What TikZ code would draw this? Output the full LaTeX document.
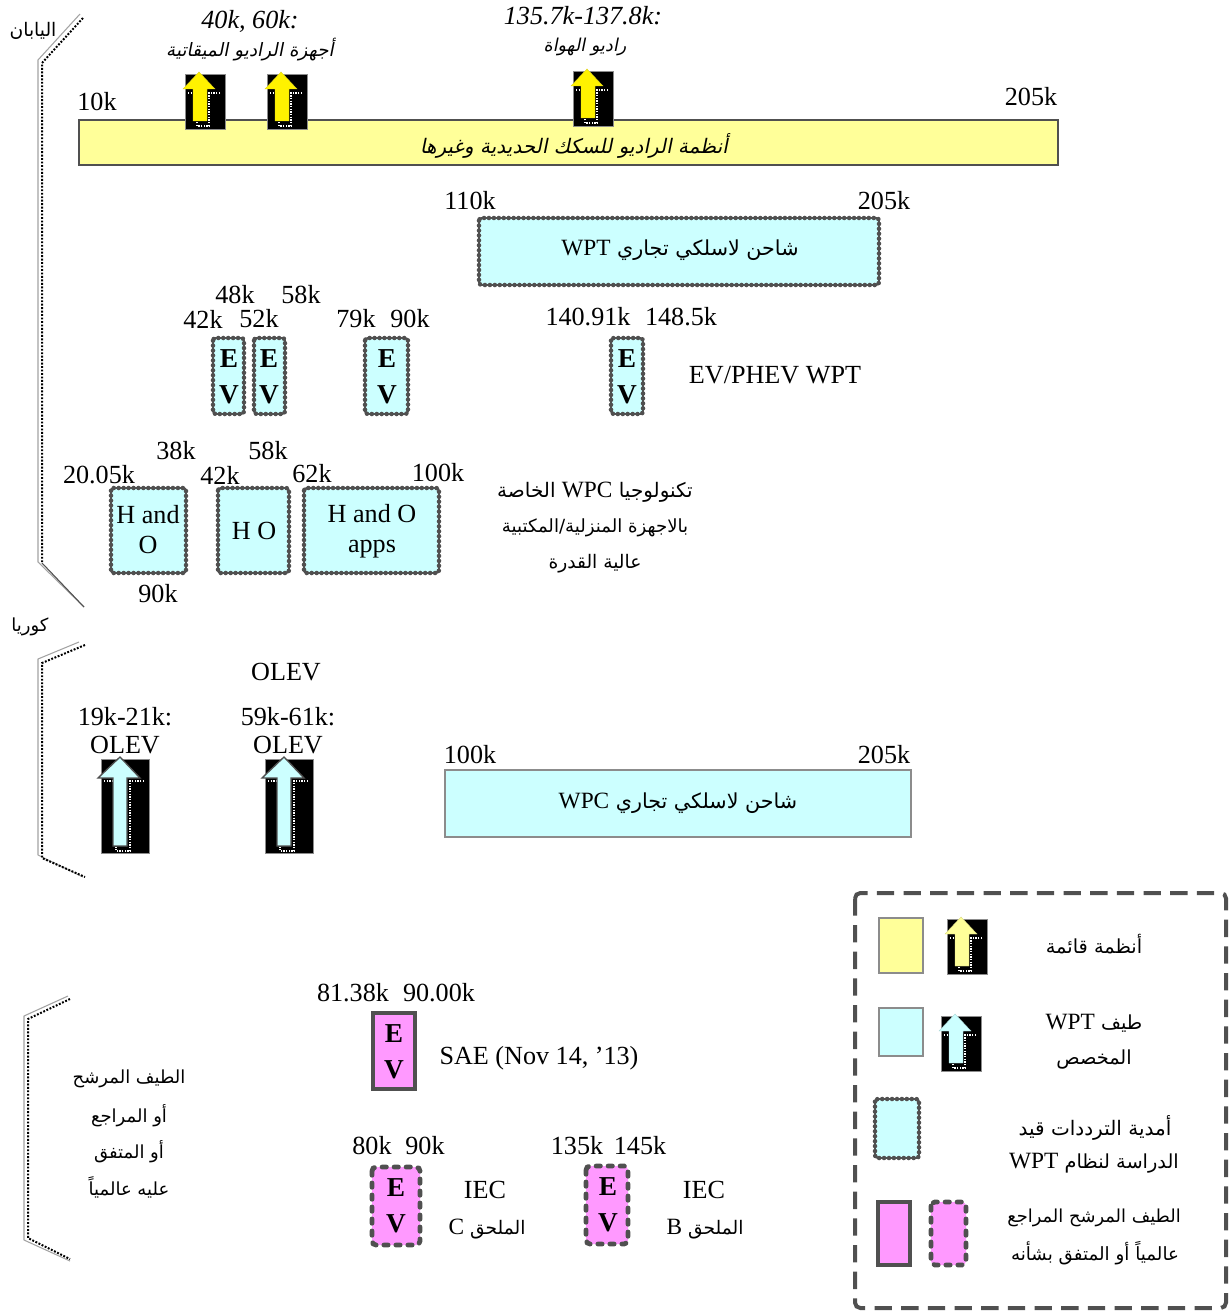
\documentclass[tikz,border=0pt]{standalone}
\usepackage{fontspec}
\setmainfont{Liberation Serif}
\newfontfamily\arabicfont[Script=Arabic]{DejaVu Sans}
\newfontfamily\arabicslant[Script=Arabic,FakeSlant=0.2]{DejaVu Sans}
\newfontfamily\latinfont{Liberation Serif}
\TeXXeTstate=1
\newcommand{\ar}[2][14]{{\arabicfont\fontsize{#1}{27}\selectfont\beginR #2\endR}}
\newcommand{\arit}[2][14]{{\arabicslant\fontsize{#1}{27}\selectfont\beginR #2\endR}}
\newcommand{\lat}[1]{\beginL{\latinfont\fontsize{17.5}{27}\selectfont #1}\endL}
\definecolor{dk}{HTML}{505050}
\definecolor{ylw}{HTML}{FFFF99}
\definecolor{cyn}{HTML}{CCFFFF}
\definecolor{pnk}{HTML}{FF99FF}
\definecolor{ln}{HTML}{8C8C8C}
\tikzset{
  every node/.style={inner sep=0pt,align=center,font=\fontsize{19.6}{27}\selectfont},
  beadbox/.style={draw=dk,line width=1.4pt,rounded corners=2pt,
    postaction={draw=dk,line width=3.4pt,line cap=round,dash pattern=on 0pt off 3.7pt}},
  solidbox/.style={draw=ln,line width=1pt},
  thickbox/.style={draw=dk,line width=3pt},
  blobbox/.style={draw=dk,line width=3.6pt,line cap=round,rounded corners=3pt,dash pattern=on 3.2pt off 5.8pt},
  rail/.style={draw=ln!80,line width=.8pt,line join=round},
  dotrail/.style={draw=black,line width=1.5pt,dash pattern=on 1.4pt off 1.2pt},
  whitedots/.style={draw=white,line width=1pt,dash pattern=on 1pt off 1pt},
  evlabel/.style={font=\fontsize{20.5}{27}\selectfont\bfseries},
  hlabel/.style={font=\fontsize{19.6}{22.5}\selectfont},
}
\newcommand{\smallflag}[3]{\begin{scope}[shift={(#1,#2)}]
  \fill[black,draw=ln,line width=.5pt] (0,0) rectangle (40,55);
  \draw[whitedots] (3,19) -- (8,19) (35,19) -- (24,19) -- (24,52) -- (12,52) -- (12,48);
  \draw[fill=#3,draw=#3!85!black,line width=.3pt] (14,-2) -- (30,15) -- (22,15) -- (22,47) -- (8,47) -- (8,15) -- (-2,15) -- cycle;
\end{scope}}
\newcommand{\bigflag}[3]{\begin{scope}[shift={(#1,#2)}]
  \fill[black,draw=ln,line width=.5pt] (0,0) rectangle (48,94);
  \draw[whitedots,line width=1.5pt] (3,22) -- (12,22) (43,22) -- (29,22) -- (29,92) -- (15,92) -- (15,88);
  \draw[fill=#3,draw=dk,line width=1pt] (19,-2) -- (39,19) -- (26,19) -- (26,87) -- (12,87) -- (12,19) -- (-3,19) -- cycle;
\end{scope}}
\begin{document}
\begin{tikzpicture}[x=.75pt,y=-.75pt]
\useasboundingbox (0,0) rectangle (1231,1312);
% brackets
\draw[rail] (80,14) -- (38,60) -- (38,562) -- (84,607);
\draw[dotrail] (83,18) -- (42,63) -- (42,562);
\draw[draw=dk,line width=.8pt] (42,563) -- (84,607);
\draw[rail] (79,642) -- (38,659) -- (38,855) -- (83,877);
\draw[dotrail] (85,645) -- (42,663) -- (42,858) -- (85,877);
\draw[rail] (68,996) -- (24,1016) -- (24,1240) -- (70,1261);
\draw[dotrail] (70,999) -- (28,1019) -- (28,1238) -- (70,1259);
% main bars
\draw[fill=ylw,draw=dk,line width=2.2pt] (79,120) rectangle (1058,165);
\smallflag{185}{74}{yellow}
\smallflag{267}{74}{yellow}
\smallflag{573}{71}{yellow}
\draw[beadbox,fill=cyn] (479,218) rectangle (879,285);
\draw[beadbox,fill=cyn] (213,338) rectangle (244,414);
\draw[beadbox,fill=cyn] (254,338) rectangle (285,414);
\draw[beadbox,fill=cyn] (365,338) rectangle (408,414);
\draw[beadbox,fill=cyn] (611,338) rectangle (643,414);
\draw[beadbox,fill=cyn] (111,488) rectangle (186,573);
\draw[beadbox,fill=cyn] (218,488) rectangle (289,573);
\draw[beadbox,fill=cyn] (304,488) rectangle (439,573);
\bigflag{101}{759}{cyn}
\bigflag{265}{759}{cyn}
\draw[solidbox,fill=cyn] (445,770) rectangle (911,837);
\draw[thickbox,fill=pnk] (373,1013) rectangle (415,1089);
\draw[blobbox,fill=pnk] (372,1167) rectangle (420,1245);
\draw[blobbox,fill=pnk] (586,1166) rectangle (628,1244);
% legend
\draw[draw=dk,line width=3pt,rounded corners=4pt,dash pattern=on 13pt off 7pt] (855,893) rectangle (1226,1308);
\draw[solidbox,fill=ylw] (879,918) rectangle (923,973);
\smallflag{947}{919}{ylw}
\draw[solidbox,fill=cyn] (879,1008) rectangle (923,1056);
\smallflag{941}{1016}{cyn}
\draw[beadbox,fill=cyn] (875,1099) rectangle (919,1158);
\draw[thickbox,fill=pnk] (878,1202) rectangle (910,1265);
\draw[blobbox,fill=pnk] (931,1202) rectangle (966,1265);
% labels
\node (japan) at (33,31) {\ar{اليابان}};
\node (t4060) at (250,21) {\textit{40k, 60k:}};
\node (clock) at (250,50) {\arit[13.8]{أجهزة الراديو الميقاتية}};
\node (t135) at (583,16) {\textit{135.7k-137.8k:}};
\node (ham) at (585,47) {\arit[13.3]{راديو الهواة}};
\node (f10) at (97,102) {10k};
\node (f205a) at (1031,97) {205k};
\node (rail) at (574,146) {\arit[15]{أنظمة الراديو للسكك الحديدية وغيرها}};
\node (f110) at (470,201) {110k};
\node (f205b) at (884,201) {205k};
\node (wptchg) at (680,250) {\ar[15.5]{شاحن لاسلكي تجاري \lat{WPT}}};
\node (f48) at (235,295) {48k};
\node (f58a) at (301,295) {58k};
\node (f42a) at (203,319) {42k};
\node (f52) at (259,319) {52k};
\node (f79) at (356,319) {79k};
\node (f90a) at (410,319) {90k};
\node (f140) at (588,317) {140.91k};
\node (f148) at (681,317) {148.5k};
\node[evlabel] (ev1) at (229,377) {E\\V};
\node[evlabel] (ev2) at (269,377) {E\\V};
\node[evlabel] (ev3) at (387,377) {E\\V};
\node[evlabel] (ev4) at (627,377) {E\\V};
\node (phev) at (775,375) {EV/PHEV WPT};
\node (f38) at (176,451) {38k};
\node (f58b) at (268,451) {58k};
\node (f20) at (99,475) {20.05k};
\node (f42b) at (220,475) {42k};
\node (f62) at (312,474) {62k};
\node (f100a) at (438,473) {100k};
\node[hlabel] (ho1) at (148,530) {H and\\O};
\node[hlabel] (ho2) at (254,531) {H O};
\node[hlabel] (ho3) at (372,531) {H and O\\apps};
\node (f90b) at (158,594) {90k};
\node (wpc) at (595,492) {\ar[15]{تكنولوجيا \lat{WPC} الخاصة}};
\node (wpc2) at (595,528) {\ar[13.6]{بالاجهزة المنزلية/المكتبية}};
\node (wpc3) at (595,564) {\ar{عالية القدرة}};
\node (korea) at (30,627) {\ar[13.5]{كوريا}};
\node (olev0) at (286,672) {OLEV};
\node (f19) at (125,717) {19k-21k:};
\node (olev1) at (125,745) {OLEV};
\node (f59) at (288,717) {59k-61k:};
\node (olev2) at (288,745) {OLEV};
\node (f100b) at (470,755) {100k};
\node (f205c) at (884,755) {205k};
\node (wpcchg) at (678,803) {\ar[15.5]{شاحن لاسلكي تجاري \lat{WPC}}};
\node (s1) at (129,1079) {\ar[13.5]{الطيف المرشح}};
\node (s2) at (129,1116) {\ar[13.5]{أو المراجع}};
\node (s3) at (129,1152) {\ar[13.5]{أو المتفق}};
\node (s4) at (129,1187) {\ar[13.5]{عليه عالمياً}};
\node (f81) at (353,993) {81.38k};
\node (f90c) at (439,993) {90.00k};
\node[evlabel] (ev5) at (394,1052) {E\\V};
\node (sae) at (539,1058) {SAE (Nov 14, ’13)};
\node (f80) at (372,1146) {80k};
\node (f90d) at (425,1146) {90k};
\node (f135) at (577,1146) {135k};
\node (f145) at (640,1146) {145k};
\node[evlabel] (ev6) at (396,1206) {E\\V};
\node[evlabel] (ev7) at (608,1205) {E\\V};
\node (iec1) at (485,1190) {IEC};
\node (annc) at (487,1229) {\ar{الملحق \lat{C}}};
\node (iec2) at (704,1190) {IEC};
\node (annb) at (705,1229) {\ar{الملحق \lat{B}}};
\node (l1) at (1094,944) {\ar[14.5]{أنظمة قائمة}};
\node (l2a) at (1094,1023) {\ar[14.5]{طيف \lat{WPT}}};
\node (l2b) at (1094,1060) {\ar[14.5]{المخصص}};
\node (l3a) at (1095,1128) {\ar[15]{أمدية الترددات قيد}};
\node (l3b) at (1094,1163) {\ar[14.5]{الدراسة لنظام \lat{WPT}}};
\node (l4a) at (1094,1218) {\ar[13.4]{الطيف المرشح المراجع}};
\node (l4b) at (1095,1253) {\ar[13.7]{عالمياً أو المتفق بشأنه}};
\end{tikzpicture}
\end{document}
